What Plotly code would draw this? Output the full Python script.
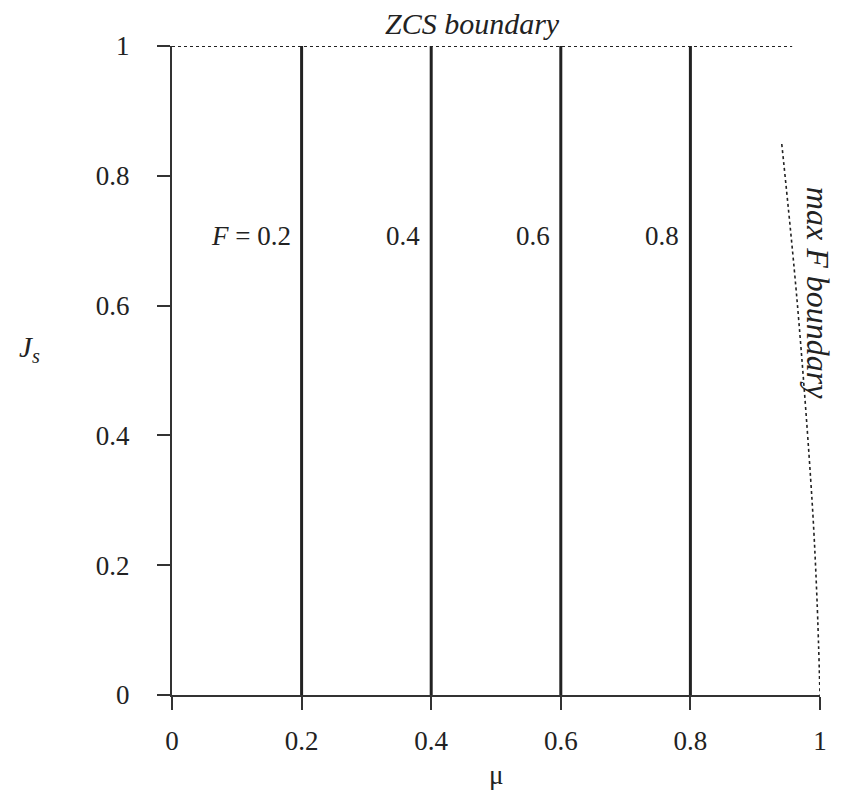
import plotly.graph_objects as go

# Data
f_values = [0.2, 0.4, 0.6, 0.8]
f_labels = ["<i>F</i> = 0.2", "0.4", "0.6", "0.8"]
js_range = [0, 1]
zcs_mu = [0.0, 0.957]
zcs_js = [1.0, 1.0]
maxf_mu = [0.941, 0.9645, 0.9877, 0.9954, 1.0]
maxf_js = [0.849, 0.609, 0.300, 0.146, 0.0]
tick_vals = [0, 0.2, 0.4, 0.6, 0.8, 1]
tick_text = ["0", "0.2", "0.4", "0.6", "0.8", "1"]
label_js = 0.707

FONT = "Liberation Serif"
INK = "#222222"

fig = go.Figure()

for f in f_values:
    fig.add_trace(go.Scatter(x=[f, f], y=js_range, mode="lines",
                             line=dict(color=INK, width=3), cliponaxis=False,
                             showlegend=False, hoverinfo="skip"))

fig.add_trace(go.Scatter(x=zcs_mu, y=zcs_js, mode="lines",
                         line=dict(color=INK, width=2, dash="3px,3px"),
                         cliponaxis=False, showlegend=False, hoverinfo="skip"))
fig.add_trace(go.Scatter(x=maxf_mu, y=maxf_js, mode="lines",
                         line=dict(color=INK, width=1.6, dash="3px,3px", shape="spline"),
                         cliponaxis=False, showlegend=False, hoverinfo="skip"))

for f, lab in zip(f_values, f_labels):
    fig.add_annotation(x=f, y=label_js, text=lab, showarrow=False,
                       xanchor="right", yanchor="middle", xshift=-9,
                       font=dict(family=FONT, size=27, color=INK))

fig.add_annotation(x=0.463, y=1, text="<i>ZCS boundary</i>", showarrow=False,
                   xanchor="center", yanchor="middle", yshift=23,
                   font=dict(family=FONT, size=30, color=INK))
fig.add_annotation(x=0.996, y=0.619, text="<i>max F boundary</i>", showarrow=False,
                   textangle=90, xanchor="center", yanchor="middle",
                   font=dict(family=FONT, size=32, color=INK))
fig.add_annotation(xref="paper", yref="paper", x=0.5, y=0, yshift=-80,
                   text="μ", showarrow=False, xanchor="center", yanchor="middle",
                   font=dict(family=FONT, size=27, color=INK))
fig.add_annotation(xref="paper", yref="paper", x=0, y=0.533, xshift=-143,
                   text="<i>J<sub>s</sub></i>", showarrow=False,
                   xanchor="center", yanchor="middle",
                   font=dict(family=FONT, size=29, color=INK))

axis_common = dict(range=[0, 1], showgrid=False, zeroline=False, showline=True,
                   linecolor="#333333", linewidth=2, ticks="outside", ticklen=13,
                   tickwidth=1.5, tickcolor="#333333", tickvals=tick_vals,
                   ticktext=tick_text, tickfont=dict(family=FONT, size=27, color=INK))

fig.update_xaxes(**axis_common, ticklabelstandoff=8)
fig.update_yaxes(**axis_common, ticklabelstandoff=22)

# page body has an 8px default margin; size the figure so it fits the window
fig.update_layout(width=833, height=791, plot_bgcolor="white", paper_bgcolor="white",
                  margin=dict(l=164, r=21, t=38, b=104), showlegend=False)

fig.write_html("out.html")
